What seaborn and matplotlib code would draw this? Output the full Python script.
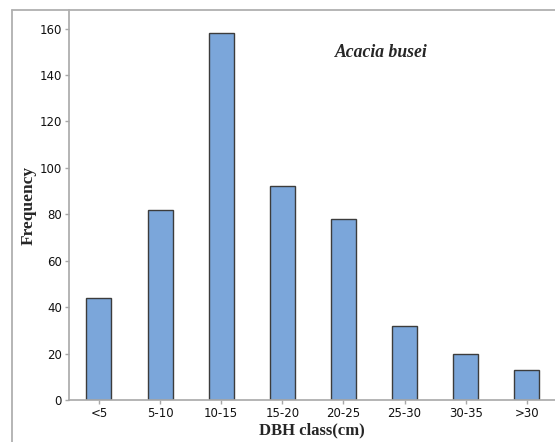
import matplotlib
matplotlib.use('Agg')
import matplotlib.pyplot as plt
import pandas as pd
import seaborn as sns
from matplotlib.lines import Line2D

# DBH classes and counts
dbh_classes = ['<5', '5-10', '10-15', '15-20', '20-25', '25-30', '30-35', '>30']
frequency = [44, 82, 158, 92, 78, 32, 20, 13]
y_ticks = [0, 20, 40, 60, 80, 100, 120, 140, 160]

df = pd.DataFrame({'dbh': dbh_classes, 'freq': frequency})

sns.set_theme(style='white')
plt.rcParams['font.family'] = ['Liberation Sans Narrow', 'DejaVu Sans']

W, H = 555, 442
fig = plt.figure(figsize=(W / 100, H / 100), dpi=100)
ax = fig.add_axes([69 / W, 42 / H, 1 - 69 / W, (400 - 10) / H])

sns.barplot(data=df, x='dbh', y='freq', ax=ax, color='#7ba6da', saturation=1,
            width=0.41, edgecolor='#3c3c3c', linewidth=1.0)

ax.set_xlim(-0.49, 7.46)
ax.set_ylim(0, 168)
ax.set_yticks(y_ticks)
ax.set_yticklabels([str(v) for v in y_ticks])

for side in ['top', 'right']:
    ax.spines[side].set_visible(False)
for side in ['left', 'bottom']:
    ax.spines[side].set_color('#a8a8a8')
    ax.spines[side].set_linewidth(1.2)

ax.tick_params(axis='both', which='major', direction='out', length=3, width=1,
               color='#a8a8a8', labelsize=8.5, labelcolor='#111111', pad=2,
               bottom=True, left=True)

ax.set_xlabel('DBH class(cm)', family=['Liberation Serif', 'DejaVu Serif'],
              fontweight='bold', fontsize=12, labelpad=2)
ax.set_ylabel('Frequency', family=['Liberation Serif', 'DejaVu Serif'],
              fontweight='bold', fontsize=12.5)
ax.yaxis.set_label_coords(-0.066, 0.5)

ax.text(0.547, 0.892, 'Acacia busei', transform=ax.transAxes,
        family=['Liberation Serif', 'DejaVu Serif'], style='italic',
        fontweight='bold', fontsize=12.7, ha='left', va='center')

# outer frame of the original figure (left and top edges)
frame_col = '#b0b0b0'
fig.add_artist(Line2D([12 / W, 12 / W], [0, 1 - 10 / H], transform=fig.transFigure,
                      color=frame_col, linewidth=1.3))
fig.add_artist(Line2D([12 / W, 1], [1 - 10 / H, 1 - 10 / H], transform=fig.transFigure,
                      color=frame_col, linewidth=1.3))

fig.savefig('out.png', dpi=100)
